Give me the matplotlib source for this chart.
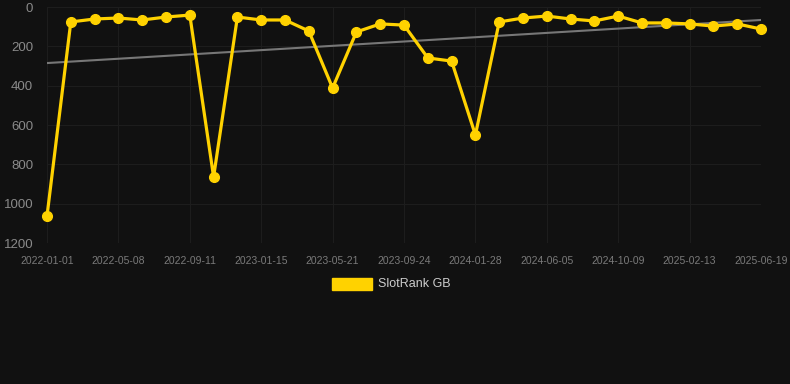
import matplotlib.pyplot as plt

# rank readings, one every ~6 weeks (labels shown on every third point)
tick_labels = ['2022-01-01', '2022-05-08', '2022-09-11', '2023-01-15', '2023-05-21',
               '2023-09-24', '2024-01-28', '2024-06-05', '2024-10-09', '2025-02-13',
               '2025-06-19']
rank_gb = [1063, 76, 61, 56, 66, 51, 41, 864, 51, 66, 66, 122, 412, 127, 86, 92,
           259, 275, 651, 76, 56, 46, 61, 71, 46, 81, 81, 86, 97, 86, 112]
trend_ends = [285, 66]

plt.rcParams['font.family'] = ['Liberation Sans', 'DejaVu Sans']

bg = '#111111'
gold = '#FFD200'

fig = plt.figure(figsize=(7.9, 3.84), dpi=100, facecolor=bg)
ax = fig.add_axes([47 / 790, 1 - 243 / 384, 714 / 790, 236 / 384], facecolor=bg)

x = list(range(len(rank_gb)))
ax.plot([x[0], x[-1]], trend_ends, color='#777777', lw=1.5, zorder=2)
ax.plot(x, rank_gb, color=gold, lw=2.3, marker='o', ms=7, zorder=3, clip_on=False)

ax.set_ylim(1200, 0)
ax.set_xlim(x[0], x[-1])
ax.set_yticks(range(0, 1201, 200))
ax.set_xticks(x[::3])
ax.set_xticklabels(tick_labels)
ax.grid(True, color='#1d1d1d', lw=0.8)
ax.tick_params(axis='x', colors='#7a7a7a', labelsize=7.5, length=0, pad=9)
ax.tick_params(axis='y', colors='#8a8a8a', labelsize=9.5, length=0, pad=10)
for s in ax.spines.values():
    s.set_visible(False)

# legend below the axes
fig.patches.append(plt.Rectangle((332 / 790, 1 - 290 / 384), 40 / 790, 12 / 384,
                                 transform=fig.transFigure, color=gold))
fig.text(378 / 790, 1 - 284 / 384, 'SlotRank GB', color='#cccccc', fontsize=9,
         va='center', ha='left')

fig.savefig('out.png', dpi=100, facecolor=bg)
